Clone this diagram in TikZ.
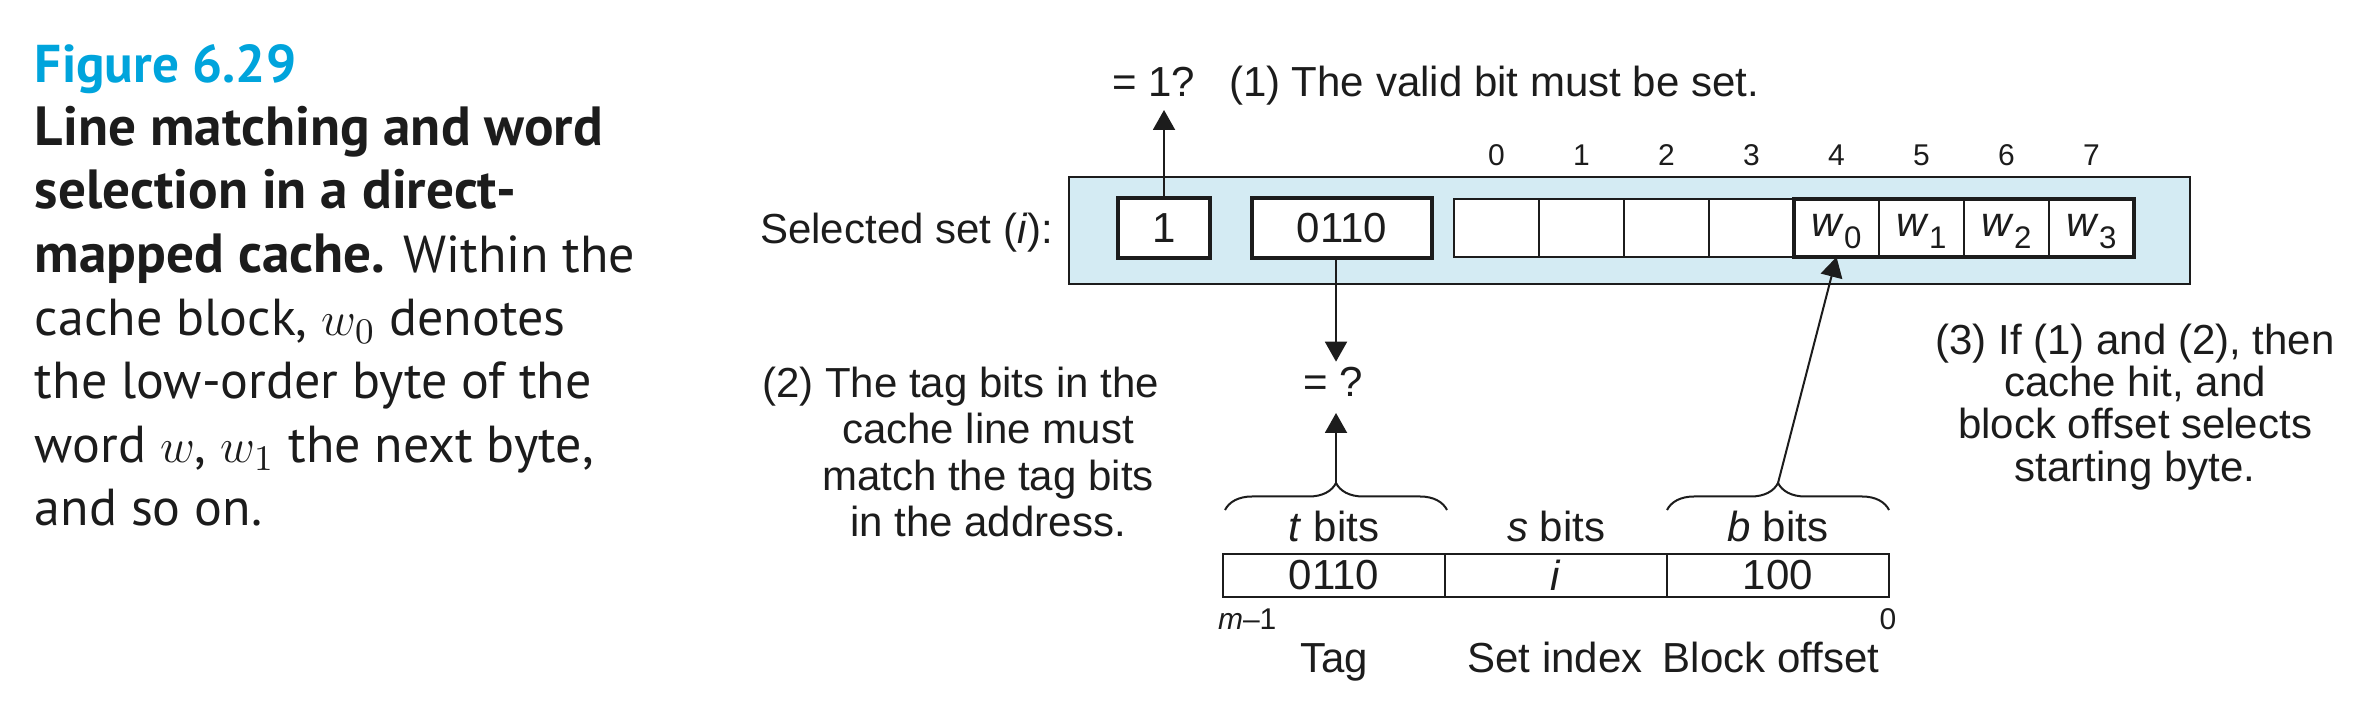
\documentclass[tikz,border=0pt]{standalone}
\usepackage{fontspec}
\setmainfont{Liberation Sans}
\newfontfamily\capfont{PT Sans}
\usetikzlibrary{arrows.meta,decorations.pathreplacing,calc}
\definecolor{setblue}{RGB}{212,235,243}
\definecolor{figblue}{RGB}{0,164,220}
\definecolor{ink}{RGB}{28,28,28}
\begin{document}
\begin{tikzpicture}[x=0.25pt,y=-0.25pt,
  every node/.style={inner sep=0pt, outer sep=0pt, text=ink, font=\fontsize{10.5}{11.7}\selectfont},
  small/.style={font=\fontsize{7.5}{8}\selectfont},
  captxt/.style={anchor=base west, font=\capfont\fontsize{13}{15.8}\selectfont},
  captbold/.style={anchor=base west, font=\capfont\bfseries\fontsize{13.8}{15.8}\selectfont},
  thickbox/.style={draw=ink, line width=1.1pt, fill=white, minimum height=15pt},
  cell/.style={draw=ink, line width=0.5pt, fill=white, minimum width=21.25pt, minimum height=14.5pt},
  addr/.style={draw=ink, line width=0.5pt, fill=white, minimum width=55.5pt, minimum height=10.75pt},
  arr/.style={draw=ink, line width=0.5pt, -{Triangle[length=5pt,width=5.5pt]}},
  brc/.style={draw=ink, line width=0.5pt, decorate, decoration={brace, amplitude=6.75pt}},
]
\useasboundingbox (0,0) rectangle (2362,712);
% caption
\node[captbold, text=figblue, font=\capfont\bfseries\fontsize{13.3}{15.8}\selectfont] (fig) at (35,83) {Figure 6.29};
\node[captbold] (cl1) at (35,146) {Line matching and word};
\node[captbold] (cl2) at (35,209) {selection in a direct-};
\node[captxt] (cl3) at (35,273) {{\bfseries\fontsize{13.8}{15.8}\selectfont mapped cache.} Within the};
\node[captxt] (cl4) at (35,336) {cache block, $w_0$ denotes};
\node[captxt] (cl5) at (35,399) {the low-order byte of the};
\node[captxt] (cl6) at (35,463) {word $w$, $w_1$ the next byte,};
\node[captxt] (cl7) at (35,526) {and so on.};
% selected set
\node[draw=ink, line width=0.6pt, fill=setblue, minimum width=280.25pt, minimum height=26.75pt] (set) at (1629.5,230.5) {};
\node[anchor=base east] (sellbl) at (1053,244) {Selected set (\textit{i}):};
\node[thickbox, minimum width=23pt] (valid) at (1164,228) {1};
\node[thickbox, minimum width=45pt] (tagc) at (1342,228) {0110};
\foreach \k in {0,...,7}{
  \node[cell] (b\k) at ({1496.5+85*\k},228) {};
  \node[small, anchor=base] (d\k) at ({1496.5+85*\k},166) {\k};
}
\foreach \j in {0,...,3}{
  \node[anchor=base] (w\j) at ({1496.5+85*(\j+4)},237) {\textit{w}\raisebox{-3pt}{\fontsize{7.8}{8}\selectfont\j}};
}
\draw[draw=ink, line width=1.1pt] (b4.north west) rectangle (b7.south east);
% top labels
\node[anchor=base west] (eq1) at (1112,97) {= 1?};
\node[anchor=base west] (t1) at (1229,97) {(1) The valid bit must be set.};
\draw[arr, shorten >=3.25pt] (valid.north) -- (valid.north |- eq1.south);
% address
\node[addr] (aT) at (1334,575.5) {0110};
\node[addr] (aS) at (1556,575.5) {\textit{i}};
\node[addr] (aB) at (1778,575.5) {100};
\node[anchor=base] (tb) at (1334,542) {\textit{t} bits};
\node[anchor=base] (sb) at (1556,542) {\textit{s} bits};
\node[anchor=base] (bb) at (1778,542) {\textit{b} bits};
\node[anchor=base] (tagl) at (1334,673) {Tag};
\node[anchor=base] (setl) at (1555,673) {Set index};
\node[anchor=base] (offl) at (1771,673) {Block offset};
\node[small, anchor=base west] (mm) at (1218,630) {\textit{m}–1};
\node[small, anchor=base] (zero) at (1888,630) {0};
% braces
\coordinate (tbl) at (1225,510);
\coordinate (tbr) at (1447,510);
\coordinate (ttip) at (1336,483);
\coordinate (bbl) at (1667,510);
\coordinate (bbr) at (1889,510);
\coordinate (btip) at (1778,483);
\draw[brc] (tbl) -- (tbr);
\draw[brc] (bbl) -- (bbr);
% tag compare
\node[anchor=base] (eqq) at (1333,397) {= ?};
\draw[arr, shorten >=1.5pt] (tagc.south -| ttip) -- (eqq.north -| ttip);
\draw[arr, shorten >=4pt] (ttip) -- (eqq.south -| ttip);
\draw[arr] (btip) -- (b4.south);
% notes
\node[anchor=base] (n21) at (992,398) {\llap{(2) }The tag bits in the};
\node[anchor=base] (n22) at (988,444) {cache line must};
\node[anchor=base] (n23) at (988,491) {match the tag bits};
\node[anchor=base] (n24) at (988,537) {in the address.};
\node[anchor=base] (n31) at (2135,355) {(3) If (1) and (2), then};
\node[anchor=base] (n32) at (2135,397) {cache hit, and};
\node[anchor=base] (n33) at (2135,439) {block offset selects};
\node[anchor=base] (n34) at (2135,482) {starting byte.};
\end{tikzpicture}
\end{document}
